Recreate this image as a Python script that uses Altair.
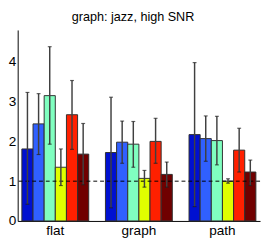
import altair as alt
import pandas as pd

groups = ["flat", "graph", "path"]
series = ["s1", "s2", "s3", "s4", "s5", "s6"]
colors = ["#0010d0", "#3060ff", "#80ffc0", "#e0ff00", "#ff2000", "#700000"]

values = {
    "flat":  [1.81, 2.44, 3.15, 1.35, 2.67, 1.68],
    "graph": [1.72, 1.98, 1.93, 1.07, 2.00, 1.17],
    "path":  [2.17, 2.07, 2.02, 1.00, 1.78, 1.23],
}
err_lo = {
    "flat":  [0.42, 1.67, 1.93, 0.89, 1.80, 0.91],
    "graph": [0.33, 1.45, 1.35, 0.85, 1.45, 0.85],
    "path":  [0.36, 1.50, 1.41, 0.95, 1.23, 0.89],
}
err_hi = {
    "flat":  [3.23, 3.20, 4.38, 1.81, 3.53, 2.45],
    "graph": [3.11, 2.51, 2.50, 1.27, 2.58, 1.48],
    "path":  [3.98, 2.64, 2.63, 1.06, 2.33, 1.53],
}

rows = []
for g in groups:
    for i, s in enumerate(series):
        rows.append({"group": g, "series": s, "value": values[g][i],
                     "lo": err_lo[g][i], "hi": err_hi[g][i]})
df = pd.DataFrame(rows)

FONT = "Liberation Sans"

xenc = alt.X("group:N", sort=groups,
             scale=alt.Scale(paddingInner=0.2, paddingOuter=0.05),
             axis=alt.Axis(title=None, labelAngle=0, ticks=False, labelPadding=3,
                           labelFontSize=14, labelFont=FONT, labelColor="black",
                           domainColor="black"))
xoff = alt.XOffset("series:N", sort=series)
yscale = alt.Scale(domain=[0, 4.8], nice=False)

base = alt.Chart(df)

bars = base.mark_bar(stroke="#303030", strokeWidth=1, opacity=1).encode(
    x=xenc,
    xOffset=xoff,
    y=alt.Y("value:Q", scale=yscale,
            axis=alt.Axis(title=None, values=[0, 1, 2, 3, 4], grid=False,
                          ticks=False, labelPadding=2, labelFontSize=14,
                          labelFont=FONT, labelColor="black", domainColor="black")),
    color=alt.Color("series:N", sort=series,
                    scale=alt.Scale(domain=series, range=colors), legend=None),
)

rules = base.mark_rule(color="#404040", strokeWidth=1.5).encode(
    x=alt.X("group:N", sort=groups), xOffset=xoff,
    y=alt.Y("lo:Q", scale=yscale), y2="hi:Q")

cap_lo = base.mark_tick(color="#202020", size=4, thickness=1.2).encode(
    x=alt.X("group:N", sort=groups), xOffset=xoff,
    y=alt.Y("lo:Q", scale=yscale))
cap_hi = base.mark_tick(color="#202020", size=4, thickness=1.2).encode(
    x=alt.X("group:N", sort=groups), xOffset=xoff,
    y=alt.Y("hi:Q", scale=yscale))

dash = alt.Chart(pd.DataFrame({"v": [1]})).mark_rule(
    color="black", strokeDash=[4, 3], strokeWidth=1).encode(y=alt.Y("v:Q", scale=yscale))

chart = alt.layer(bars, dash, rules, cap_lo, cap_hi).properties(
    width=250, height=197,
    title=alt.TitleParams("graph: jazz, high SNR", font=FONT, fontSize=13,
                          fontWeight="normal", color="black", offset=6.5, dx=-6),
    autosize=alt.AutoSizeParams(type="none"),
    padding={"left": 10, "top": 19, "right": 2, "bottom": 17},
).configure_view(stroke=None)

chart.save("out.html", embed_options={"renderer": "svg", "actions": False})
